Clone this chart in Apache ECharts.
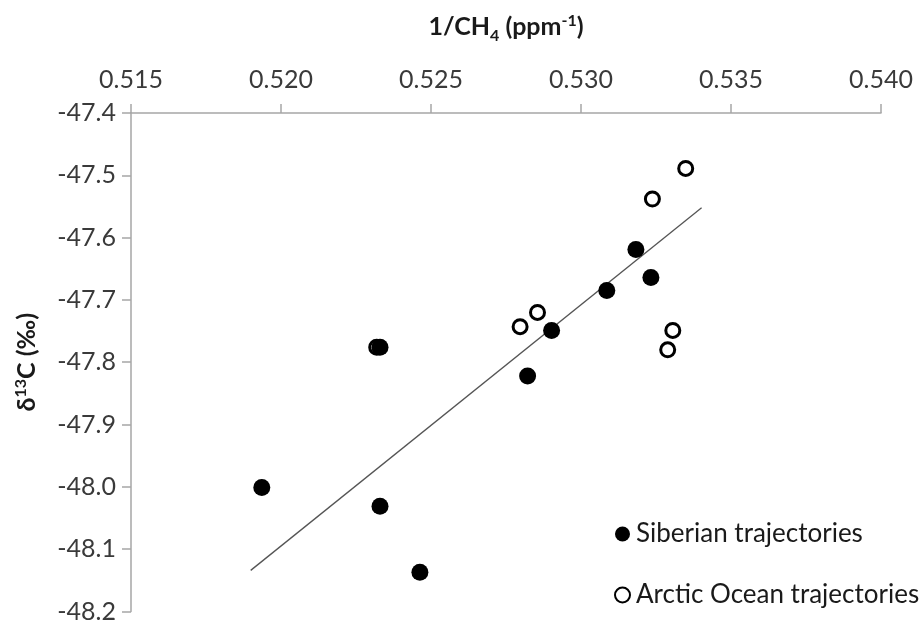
<!DOCTYPE html>
<html>
<head>
<meta charset="utf-8">
<script src="https://cdn.jsdelivr.net/npm/echarts@6/dist/echarts.min.js"></script>
<style>
  html, body { margin: 0; padding: 0; background: #fff; }
  #chart { width: 924px; height: 624px; }
</style>
</head>
<body>
<div id="chart"></div>
<script>
// Siberian trajectories (filled circles): [1/CH4, d13C]
const siberian = [
  [0.51936, -48.001],
  [0.52330, -47.776],
  [0.52902, -47.749],
  [0.52822, -47.822],
  [0.52330, -48.031],
  [0.52463, -48.137],
  [0.53183, -47.619],
  [0.53233, -47.664],
  [0.53086, -47.685]
]
// Arctic Ocean trajectories (open circles)
const arctic = [
  [0.52319, -47.776],
  [0.52797, -47.743],
  [0.52855, -47.720],
  [0.53349, -47.489],
  [0.53238, -47.538],
  [0.53306, -47.749],
  [0.53289, -47.780]
]
// regression line end points
const trend = [
  [0.51899, -48.134],
  [0.53402, -47.552]
]

const font = 'Lato, "Open Sans", sans-serif'
const textColor = '#3a3a3a'
const titleColor = '#1a1a1a'
const axisGrey = '#a6a6a6'

const chart = echarts.init(document.getElementById('chart'))

chart.setOption({
  animation: false,
  textStyle: { fontFamily: font },
  grid: { left: 131, right: 43, top: 113, bottom: 10 },
  legend: {
    orient: 'vertical',
    left: 609,
    top: 514,
    itemGap: 31,
    itemWidth: 15,
    itemHeight: 15,
    textStyle: { fontFamily: font, fontSize: 26, lineHeight: 30, color: titleColor, padding: [0, 0, 0, 1] },
    data: ['Siberian trajectories', 'Arctic Ocean trajectories']
  },
  xAxis: {
    type: 'value',
    position: 'top',
    min: 0.515,
    max: 0.540,
    interval: 0.005,
    name: '{b|1/CH}{sub|4}{b| (ppm}{sup|-1}{b|)}',
    nameLocation: 'middle',
    nameGap: 68,
    nameTextStyle: {
      rich: {
        b: { fontFamily: font, fontSize: 25, fontWeight: 'bold', color: titleColor, lineHeight: 36, verticalAlign: 'middle' },
        sub: { fontFamily: font, fontSize: 16, fontWeight: 'bold', color: titleColor, lineHeight: 36, verticalAlign: 'bottom', padding: [0, 0, 1, 0] },
        sup: { fontFamily: font, fontSize: 16, fontWeight: 'bold', color: titleColor, lineHeight: 36, verticalAlign: 'top', padding: [4, 0, 0, 0] }
      }
    },
    axisLine: { onZero: false, lineStyle: { color: axisGrey, width: 1.5 } },
    axisTick: { length: 9, lineStyle: { color: axisGrey, width: 1.5 } },
    axisLabel: {
      fontSize: 25, color: textColor, margin: 21,
      formatter: v => v.toFixed(3)
    },
    splitLine: { show: false }
  },
  yAxis: {
    type: 'value',
    min: -48.2,
    max: -47.4,
    interval: 0.1,
    name: '{b|δ}{sup|13}{b|C (‰)}',
    nameLocation: 'middle',
    nameRotate: 90,
    nameGap: 86,
    nameTextStyle: {
      rich: {
        b: { fontFamily: font, fontSize: 25, fontWeight: 'bold', color: titleColor, lineHeight: 36, verticalAlign: 'middle' },
        sup: { fontFamily: font, fontSize: 16, fontWeight: 'bold', color: titleColor, lineHeight: 36, verticalAlign: 'top', padding: [4, 0, 0, 0] }
      }
    },
    axisLine: { show: true, onZero: false, lineStyle: { color: axisGrey, width: 1.5 } },
    axisTick: { show: true, length: 9, lineStyle: { color: axisGrey, width: 1.5 } },
    axisLabel: {
      fontSize: 25, color: textColor, margin: 15,
      formatter: v => v.toFixed(1)
    },
    splitLine: { show: false }
  },
  series: [
    {
      name: 'trend',
      type: 'line',
      data: trend,
      symbol: 'none',
      lineStyle: { color: '#555', width: 1.3 },
      z: 1
    },
    {
      name: 'Siberian trajectories',
      type: 'scatter',
      data: siberian,
      symbol: 'circle',
      symbolSize: 17,
      itemStyle: { color: '#000', opacity: 1 },
      z: 3
    },
    {
      name: 'Arctic Ocean trajectories',
      type: 'scatter',
      data: arctic,
      symbol: 'circle',
      symbolSize: 14,
      itemStyle: { color: '#fff', borderColor: '#000', borderWidth: 3, opacity: 1 },
      z: 2
    }
  ]
})
</script>
</body>
</html>
